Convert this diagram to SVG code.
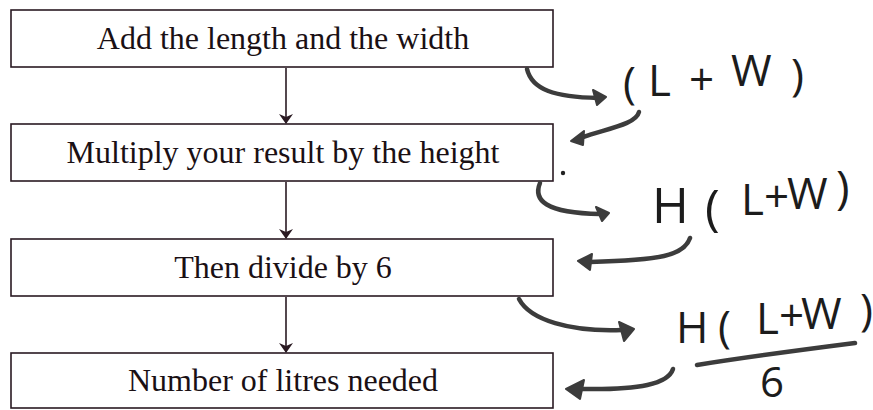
<svg xmlns="http://www.w3.org/2000/svg" width="873" height="410" viewBox="0 0 873 410">
<style>
.box{fill:#fff;stroke:#2a1a22;stroke-width:1.6}
.lbl{font-family:"Liberation Serif",serif;font-size:32px;fill:#1a1014;text-anchor:middle}
.hw{font-family:"Open Sans","DejaVu Sans",sans-serif;fill:#1c1c1c;font-weight:400}
.conn{stroke:#2a1a22;stroke-width:1.6;fill:none}
.hand{stroke:#3c3c3c;stroke-width:4.5;fill:none;stroke-linecap:round}
.head{fill:#3c3c3c;stroke:#3c3c3c;stroke-width:2;stroke-linejoin:round}
</style>
<defs>
<marker id="ah" markerWidth="10" markerHeight="14" refX="9" refY="7" orient="auto" markerUnits="userSpaceOnUse">
<path d="M0,0 L10,7 L0,14 L3,7 Z" fill="#2a1a22"/>
</marker>
</defs>
<rect width="873" height="410" fill="#fff"/>
<g id="connectors">
<line class="conn" x1="286" y1="68" x2="286" y2="123" marker-end="url(#ah)"/>
<line class="conn" x1="286" y1="182" x2="286" y2="238" marker-end="url(#ah)"/>
<line class="conn" x1="286" y1="297" x2="286" y2="352" marker-end="url(#ah)"/>
</g>
<g id="n1"><rect class="box" x="11" y="10" width="542" height="57"/><text class="lbl" x="283" y="49">Add the length and the width</text></g>
<g id="n2"><rect class="box" x="11" y="124" width="542" height="57"/><text class="lbl" x="283" y="163">Multiply your result by the height</text></g>
<g id="n3"><rect class="box" x="11" y="239" width="542" height="57"/><text class="lbl" x="283" y="278">Then divide by 6</text></g>
<g id="n4"><rect class="box" x="11" y="353" width="542" height="55"/><text class="lbl" x="283" y="391">Number of litres needed</text></g>
<g id="annotations">
<path class="hand" d="M527,69 C532,90 555,97 598,98"/>
<path class="head" d="M593,90 L606,97 L597,105 Z"/>
<text class="hw" font-size="44" x="623 648 689 731 791" y="98 96 95 86 90">(L+W)</text>
<path class="hand" d="M639,112 C636,124 610,128 583,137"/>
<path class="head" d="M584,131 L571,141 L583,145 Z"/>
<circle cx="563" cy="173" r="2.2" fill="#222"/>
<path class="hand" d="M540,183 C533,200 545,213 600,214"/>
<path class="head" d="M596,207 L609,213 L602,221 Z"/>
<text class="hw" font-size="50" x="652" y="223">H<tspan x="705" y="225">(</tspan><tspan font-size="44" x="741 764 787" y="215 212 209">L+W</tspan><tspan font-size="46" x="836" y="204">)</tspan></text>
<path class="hand" d="M690,238 C684,256 660,260 590,262"/>
<path class="head" d="M592,254 L578,261 L590,270 Z"/>
<path class="hand" d="M519,299 C530,320 570,332 622,330"/>
<path class="head" d="M619,322 L634,329 L624,341 Z"/>
<text class="hw" font-size="44" x="676" y="343">H<tspan x="718" y="342">(</tspan><tspan x="756 779 801" y="334 331 329">L+W</tspan><tspan x="860" y="325">)</tspan></text>
<path class="hand" d="M697,365 C740,358 800,350 855,343" stroke-width="3.5"/>
<text class="hw" font-size="42" x="760" y="397">6</text>
<path class="hand" d="M673,369 C668,384 640,390 582,389"/>
<path class="head" d="M584,380 L566,389 L580,399 Z"/>
</g>
</svg>
